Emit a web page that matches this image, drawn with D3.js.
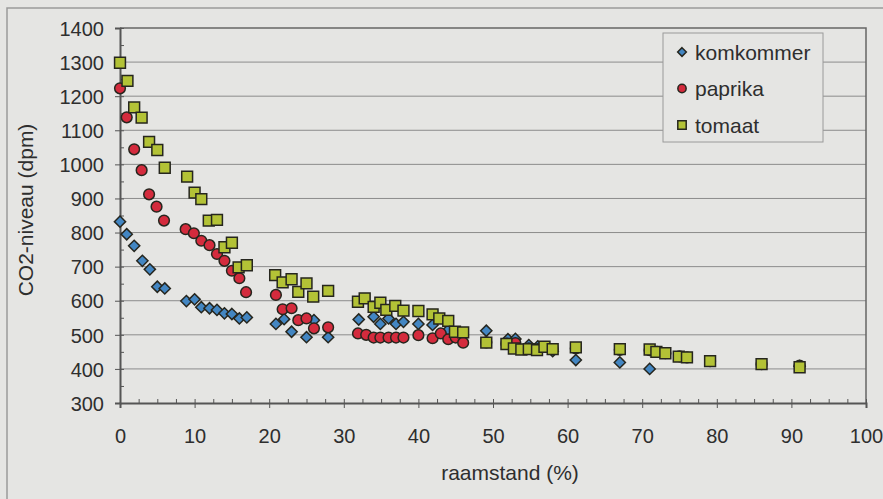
<!DOCTYPE html>
<meta charset="utf-8">
<style>
body { margin: 0; background: #e5e5e3; }
svg text { font-family: 'Liberation Sans', Arial, sans-serif; fill: #2e2e2e; }
.grid line { stroke: #8c8c8c; stroke-width: 1; }
.axis path, .axis line { stroke: #555; }
.axis text { font-size: 20px; }
</style>
<div id='chart'></div>
<script src='https://cdn.jsdelivr.net/npm/d3@7'></script>
<script>

// raamstand (%) , CO2-niveau (dpm)
const komkommer = [
  [0,832],[0.9,795],[1.9,761],[3,717],[4,692],[5,641],[6,636],[8.9,599],[10,604],[10.9,581],
  [12,578],[13,573],[14,563],[15,561],[16,548],[17,551],[20.9,532],[22,546],[23,509],[25,493],
  [26,543],[27.9,493],[32,545],[34,553],[34.9,532],[36,548],[37,532],[38,538],[40,532],[41.9,529],
  [44,514],[49.1,512],[52,487],[53,488],[54.8,470],[56,466],[58,452],[61.1,426],[67,419],[71,400],
  [91.1,408]
];
const paprika = [
  [0,1223],[0.9,1138],[1.9,1044],[2.9,983],[3.9,912],[4.9,876],[5.9,835],[8.8,810],[9.9,798],[10.9,776],
  [12,763],[13,737],[14,717],[15,688],[16,666],[16.9,625],[20.9,617],[21.8,575],[23,578],[23.9,543],
  [25,548],[26,519],[27.9,522],[31.9,504],[33,500],[34,492],[34.9,492],[36,492],[37,492],[38,492],
  [40,499],[41.9,490],[43,504],[44,487],[45,492],[46,477],[49.1,478],[51.8,474],[53,476],[54.8,460],
  [56,458],[58,458],[61.1,460],[67,456],[71,455],[72,450],[73.1,446],[75,437],[76,434],[79.1,423],
  [86,414],[91.1,410]
];
const tomaat = [
  [0,1298],[1,1245],[1.9,1167],[2.9,1137],[3.9,1066],[5,1042],[6,990],[9,964],[10,917],[10.9,898],
  [11.9,835],[13,837],[14,757],[15,770],[15.9,698],[17,704],[20.8,675],[21.8,654],[23,663],[23.9,626],
  [25,651],[25.9,612],[27.9,629],[31.9,597],[32.8,607],[34,582],[34.9,594],[35.7,573],[36.9,585],[38,571],
  [40,570],[41.9,560],[42.8,548],[44,541],[44.9,509],[46,507],[49.1,477],[51.8,473],[52.8,460],[53.8,457],
  [54.8,458],[55.9,455],[56.9,465],[58,458],[61.1,463],[67,458],[71,457],[71.9,450],[73.1,446],[74.9,436],
  [76,434],[79.1,423],[86,414],[91.1,405]
];
const seriesNames = ['komkommer', 'paprika', 'tomaat'];
const xTicks = d3.range(0, 101, 10);
const yTicks = d3.range(300, 1401, 100);

const width = 883, height = 499;
const margin = {top: 28, right: 17, bottom: 96, left: 120};
const plotW = width - margin.left - margin.right,
      plotH = height - margin.top - margin.bottom;

const svg = d3.select('#chart').append('svg')
    .attr('width', width)
    .attr('height', height);

// scanned page frame
svg.append('path')
    .attr('d', 'M7,' + height + 'V8H' + width)
    .attr('fill', 'none')
    .attr('stroke', '#9a9a9a')
    .attr('stroke-width', 1.5);

const g = svg.append('g')
    .attr('transform', 'translate(' + margin.left + ',' + margin.top + ')');

const x = d3.scaleLinear().domain([0, 100]).range([0, plotW]);
const y = d3.scaleLinear().domain([300, 1400]).range([plotH, 0]);

// gridlines
g.append('g').attr('class', 'grid')
  .selectAll('line')
  .data(yTicks.slice(1, -1))
  .join('line')
    .attr('x1', 0).attr('x2', plotW)
    .attr('y1', d => y(d)).attr('y2', d => y(d));

// plot border top / right
g.append('path')
    .attr('d', 'M0,0H' + plotW + 'V' + plotH)
    .attr('fill', 'none')
    .attr('stroke', '#666')
    .attr('stroke-width', 1.5);

// minor ticks
g.append('g').attr('class', 'axis')
    .attr('transform', 'translate(0,' + plotH + ')')
    .call(d3.axisBottom(x).tickValues(d3.range(0, 100.1, 2.5)).tickSize(-4).tickFormat(''))
    .call(a => a.select('.domain').remove());
g.append('g').attr('class', 'axis')
    .call(d3.axisLeft(y).tickValues(d3.range(300, 1401, 50)).tickSize(-4).tickFormat(''))
    .call(a => a.select('.domain').remove());

const xAxis = g.append('g').attr('class', 'axis')
    .attr('transform', 'translate(0,' + plotH + ')')
    .call(d3.axisBottom(x).tickValues(xTicks).tickSize(5).tickPadding(21).tickFormat(d3.format('d')));
xAxis.select('.domain').attr('stroke-width', 2);

const yAxis = g.append('g').attr('class', 'axis')
    .call(d3.axisLeft(y).tickValues(yTicks).tickSize(5).tickPadding(11).tickFormat(d3.format('d')));
yAxis.select('.domain').attr('stroke-width', 2);
yAxis.selectAll('.tick text').attr('dy', '0.36em');

// markers
const fills = {komkommer: '#4386c2', paprika: '#d42b3d', tomaat: '#b3c236'};
const symbols = {komkommer: d3.symbolDiamond2, paprika: d3.symbolCircle, tomaat: d3.symbolSquare2};
const sizes = {komkommer: 80, paprika: 90, tomaat: 150};
const data = {komkommer: komkommer, paprika: paprika, tomaat: tomaat};

seriesNames.forEach(name => {
    g.append('g')
      .selectAll('path')
      .data(data[name])
      .join('path')
        .attr('transform', d => 'translate(' + x(d[0]) + ',' + y(d[1]) + ')')
        .attr('d', d3.symbol(symbols[name], sizes[name]))
        .attr('fill', fills[name])
        .attr('stroke', '#26261e')
        .attr('stroke-width', 1.5);
});

// axis titles
svg.append('text')
    .attr('x', 510).attr('y', 480)
    .attr('text-anchor', 'middle')
    .style('font-size', '21px')
    .text('raamstand (%)');

svg.append('text')
    .attr('transform', 'translate(33,210) rotate(-90)')
    .attr('text-anchor', 'middle')
    .style('font-size', '21px')
    .text('CO2-niveau (dpm)');

// legend
const legend = svg.append('g').attr('transform', 'translate(663,33)');
legend.append('rect')
    .attr('width', 160).attr('height', 109)
    .attr('fill', '#e5e5e3')
    .attr('stroke', '#9a9a9a');
seriesNames.forEach((name, i) => {
    const row = legend.append('g').attr('transform', 'translate(19,' + (19 + i * 36.5) + ')');
    row.append('path')
        .attr('d', d3.symbol(symbols[name], sizes[name] * 0.6))
        .attr('fill', fills[name])
        .attr('stroke', '#26261e')
        .attr('stroke-width', 1.5);
    row.append('text')
        .attr('x', 13).attr('dy', '0.36em')
        .style('font-size', '21px')
        .text(name);
});

</script>
